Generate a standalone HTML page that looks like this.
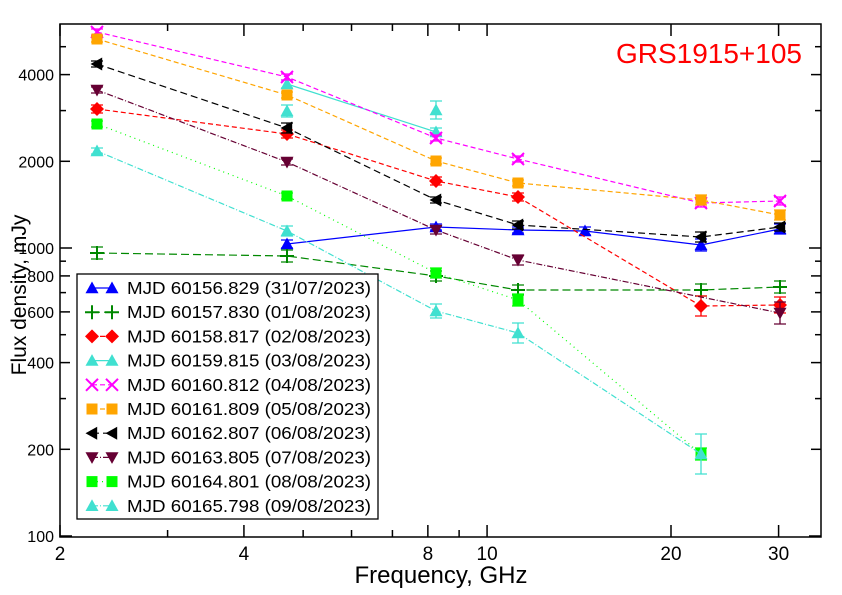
<!DOCTYPE html>
<html><head><meta charset="utf-8"><style>
body{margin:0;background:#fff}
svg{display:block;font-family:"Liberation Sans",sans-serif}
</style></head><body>
<svg id="s" width="842" height="595" xmlns="http://www.w3.org/2000/svg"></svg>
<script>
const s=document.getElementById('s');let h='';
const L=60,R=821,T=24,B=537;
const X=f=>60+611*Math.log10(f/2), Y=v=>248-288*Math.log10(v/1000);
h+=`<rect x="${L}" y="${T}" width="${R-L}" height="${B-T}" fill="none" stroke="#000" stroke-width="1.5"/>`;
for(let f=2;f<=30;f+=(f<10?1:10)){const x=X(f);const big=[2,4,8,10,20,30].includes(f);const l=big?12:7;
h+=`<line x1="${x}" y1="${B}" x2="${x}" y2="${B-l}" stroke="#000" stroke-width="1.5"/><line x1="${x}" y1="${T}" x2="${x}" y2="${T+l}" stroke="#000" stroke-width="1.5"/>`;
if(big)h+=`<text x="${x}" y="${B+23}" font-size="19" text-anchor="middle">${f}</text>`;}
const yv=[100,200,300,400,500,600,700,800,900,1000,2000,3000,4000,5000];
yv.forEach(v=>{const y=Y(v);const big=[100,1000].includes(v);const l=big?12:([200,400,600,800,2000,4000].includes(v)?10:6);
h+=`<line x1="${L}" y1="${y}" x2="${L+l}" y2="${y}" stroke="#000" stroke-width="1.5"/><line x1="${R}" y1="${y}" x2="${R-l}" y2="${y}" stroke="#000" stroke-width="1.5"/>`;
if([100,200,400,600,800,1000,2000,4000].includes(v))h+=`<text x="54" y="${y+6}" font-size="16" text-anchor="end">${v}</text>`;});
h+=`<text x="441" y="583" font-size="24" text-anchor="middle">Frequency, GHz</text>`;
h+=`<text transform="translate(26,295) rotate(-90)" font-size="21" text-anchor="middle">Flux density, mJy</text>`;
h+=`<text x="802" y="63" font-size="28" fill="#f00" text-anchor="end">GRS1915+105</text>`;
function mk(t,x,y,c,sz){sz=sz||6.5;
 if(t=='tu')return `<polygon points="${x},${y-sz} ${x-sz},${y+sz*0.8} ${x+sz},${y+sz*0.8}" fill="${c}"/>`;
 if(t=='td')return `<polygon points="${x},${y+sz} ${x-sz},${y-sz*0.8} ${x+sz},${y-sz*0.8}" fill="${c}"/>`;
 if(t=='tl')return `<polygon points="${x-sz},${y} ${x+sz*0.8},${y-sz} ${x+sz*0.8},${y+sz}" fill="${c}"/>`;
 if(t=='sq')return `<rect x="${x-5.5}" y="${y-5.5}" width="11" height="11" fill="${c}"/>`;
 if(t=='di')return `<polygon points="${x},${y-7} ${x+7},${y} ${x},${y+7} ${x-7},${y}" fill="${c}"/>`;
 if(t=='pl')return `<path d="M${x-7} ${y}H${x+7}M${x} ${y-7}V${y+7}" stroke="${c}" stroke-width="2"/>`;
 if(t=='x')return `<path d="M${x-6} ${y-6}L${x+6} ${y+6}M${x+6} ${y-6}L${x-6} ${y+6}" stroke="${c}" stroke-width="2"/>`;}
function eb(x,y,e,c){return `<path d="M${x} ${y-e}V${y+e}M${x-6} ${y-e}H${x+6}M${x-6} ${y+e}H${x+6}" stroke="${c}" stroke-width="1.3" fill="none"/>`;}
const S=[
['MJD 60156.829 (31/07/2023)','#00f','tu','',[[287,244],[436,227],[518,230],[585,231],[701,245],[780,229]],[4,3,3,4,6,5]],
['MJD 60157.830 (01/08/2023)','#080','pl','8,4',[[97,253],[287,256],[436,276],[518,290],[701,290],[780,287]],[6,6,5,5,6,6]],
['MJD 60158.817 (02/08/2023)','#f00','di','5,3',[[97,109],[287,134],[436,181],[518,197],[701,306],[780,305]],[4,4,4,4,10,8]],
['MJD 60159.815 (03/08/2023)','#40e0d0','tu','',[[287,84],[436,132]],[4,4]],
['MJD 60160.812 (04/08/2023)','#f0f','x','5,3',[[97,32],[287,77],[436,138],[518,159],[701,203],[780,201]],[3,3,3,3,4,4]],
['MJD 60161.809 (05/08/2023)','#ffa500','sq','5,3',[[97,39],[287,95],[436,161],[518,183],[701,200],[780,215]],[3,3,3,3,5,5]],
['MJD 60162.807 (06/08/2023)','#000','tl','7,4',[[97,64],[287,128],[436,200],[518,225],[701,237],[780,227]],[3,5,3,4,5,4]],
['MJD 60163.805 (07/08/2023)','#603','td','6,2,1,2',[[97,90],[287,162],[436,230],[518,260],[780,313]],[3,3,4,5,11]],
['MJD 60164.801 (08/08/2023)','#0f0','sq','1,4',[[97,124],[287,196],[436,273],[518,300],[701,454]],[3,3,5,6,6]],
['MJD 60165.798 (09/08/2023)','#40e0d0','tu','6,2,1,2',[[97,151],[287,231],[436,311],[518,333],[701,454]],[3,5,7,10,20]]];
S.forEach(([n,c,t,d,p,e])=>{h+=`<polyline points="${p.map(q=>q.join(',')).join(' ')}" fill="none" stroke="${c}" stroke-width="1.2" ${d?`stroke-dasharray="${d}"`:''}/>`;
 p.forEach(([x,y],i)=>{h+=eb(x,y,e[i],c)+mk(t,x,y,c);});});
h+=eb(287,111,6,'#40e0d0')+mk('tu',287,111,'#40e0d0')+eb(436,110,9,'#40e0d0')+mk('tu',436,110,'#40e0d0');
h+=`<rect x="77" y="274" width="301" height="245" fill="#fff" stroke="#000" stroke-width="1.3"/>`;
S.forEach(([n,c,t,d],i)=>{const y=288+i*24.2;
 h+=`<line x1="92" y1="${y}" x2="112" y2="${y}" stroke="${c}" stroke-width="1.2" ${d?`stroke-dasharray="${d}"`:''}/>`+mk(t,92,y,c)+mk(t,112,y,c);
 h+=`<text x="127" y="${y+6}" font-size="17.5" textLength="244" lengthAdjust="spacingAndGlyphs">${n}</text>`;});
s.innerHTML=h;
</script>
</body></html>
